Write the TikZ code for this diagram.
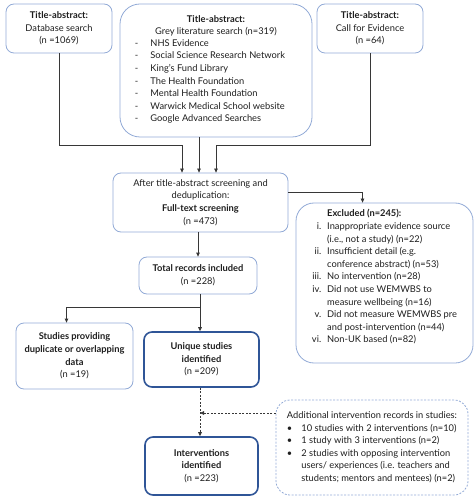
\documentclass[tikz,border=0pt]{standalone}
\usepackage{fontspec}
\setmainfont{Lato}
\usepackage{xcolor}
\usetikzlibrary{arrows.meta,positioning,calc}

\definecolor{boxline}{RGB}{146,170,214}
\definecolor{darkline}{RGB}{47,85,151}
\definecolor{arrowgray}{RGB}{55,55,55}
\definecolor{txt}{RGB}{30,30,30}

\begin{document}
\begin{tikzpicture}[
    x=1pt, y=-1pt,
    box/.style={rectangle, draw=boxline, line width=0.8pt, rounded corners=8pt, align=center, inner sep=2pt,
        text=txt, font=\fontsize{9.3}{12.6}\selectfont},
    thickbox/.style={box, draw=darkline, line width=1.6pt},
    dashbox/.style={box, dashed, dash pattern=on 2pt off 1.5pt, rounded corners=14pt},
    arrow/.style={draw=arrowgray, line width=0.8pt, -{Triangle[length=4pt,width=3.6pt]}},
    dasharrow/.style={arrow, dash pattern=on 2pt off 1.5pt}
]
\useasboundingbox (0,0) rectangle (474,502);

% Search sources
\node[box, minimum width=106pt, minimum height=49pt] (db) at (59,28.5)
    {\textbf{Title-abstract:}\\Database search\\(n =1069)};
\node[box, rounded corners=20pt, minimum width=192pt, minimum height=133pt] (grey) at (216,70.5)
    {\textbf{Title-abstract:}\\Grey literature search (n=319)\\
     \hspace*{-12pt}\begin{tabular}{@{}l@{\hspace{12pt}}l@{}}
     -&NHS Evidence\\
     -&Social Science Research Network\\
     -&King's Fund Library\\
     -&The Health Foundation\\
     -&Mental Health Foundation\\
     -&Warwick Medical School website\\
     -&Google Advanced Searches
     \end{tabular}};
\node[box, minimum width=106pt, minimum height=49pt] (call) at (370,28.5)
    {\textbf{Title-abstract:}\\Call for Evidence\\(n =64)};

% Screening
\node[box, minimum width=175pt, minimum height=59pt] (screen) at (200.5,202.5)
    {After title-abstract screening and\\deduplication:\\\textbf{Full-text screening}\\(n =473)};
\node[box, rounded corners=18pt, minimum width=177pt, minimum height=160pt] (excl) at (384.5,283)
    {\parbox[c][150pt][t]{172pt}{\centering
     \begin{tabular}{@{}r@{\hspace{6pt}}l@{}}
     &\textbf{Excluded (n=245):}\\
     i.&Inappropriate evidence source\\
     &(i.e., not a study) (n=22)\\
     ii.&Insufficient detail (e.g.\\
     &conference abstract) (n=53)\\
     iii.&No intervention (n=28)\\
     iv.&Did not use WEMWBS to\\
     &measure wellbeing (n=16)\\
     v.&Did not measure WEMWBS pre\\
     &and post-intervention (n=44)\\
     vi.&Non-UK based (n=82)
     \end{tabular}}};
\node[box, minimum width=118pt, minimum height=37pt] (total) at (198,275.5)
    {\textbf{Total records included}\\(n =228)};

% Included studies
\node[box, minimum width=117pt, minimum height=66pt] (dup) at (74.5,356)
    {\textbf{Studies providing}\\\textbf{duplicate or overlapping}\\\textbf{data}\\(n =19)};
\node[thickbox, minimum width=115pt, minimum height=55pt] (uniq) at (201.5,359.5)
    {\textbf{Unique studies}\\\textbf{identified}\\(n =209)};
\node[thickbox, minimum width=113pt, minimum height=58pt] (interv) at (201.5,466)
    {\textbf{Interventions}\\\textbf{identified}\\(n =223)};
\node[dashbox, minimum width=192pt, minimum height=95pt] (addl) at (372,447.5)
    {\begin{tabular}{@{}l@{\hspace{9pt}}l@{}}
     \multicolumn{2}{@{}l@{}}{Additional intervention records in studies:}\\
     \textbullet&10 studies with 2 interventions (n=10)\\
     \textbullet&1 study with 3 interventions (n=2)\\
     \textbullet&2 studies with opposing intervention\\
     &users/ experiences (i.e. teachers and\\
     &students; mentors and mentees) (n=2)
     \end{tabular}};

% Junction points
\coordinate (mergeL) at (182,145);
\coordinate (mergeR) at (216,145);
\coordinate (split) at (200,307);
\coordinate (joinpt) at (200,413);

% Connectors
\draw[arrow] (db.south) |- (mergeL) -- (mergeL |- screen.north);
\draw[arrow] ([xshift=-17pt]grey.south) -- ([xshift=-17pt]grey.south |- screen.north);
\draw[arrow] (call.south) |- (mergeR) -- (mergeR |- screen.north);
\draw[arrow] ([yshift=10.5pt]screen.east) -| ([xshift=-22pt]excl.north);
\draw[arrow] (screen.south -| total.north) -- (total.north);
\draw[arrow] (total.south -| split) -- (split) -| ([xshift=-8pt]dup.north);
\draw[arrow] (split) -- (split |- uniq.north);
\draw[dasharrow] (uniq.south -| split) -- (split |- interv.north);
\draw[dasharrow] ([yshift=34.5pt]addl.west) -- (joinpt);

\end{tikzpicture}
\end{document}
